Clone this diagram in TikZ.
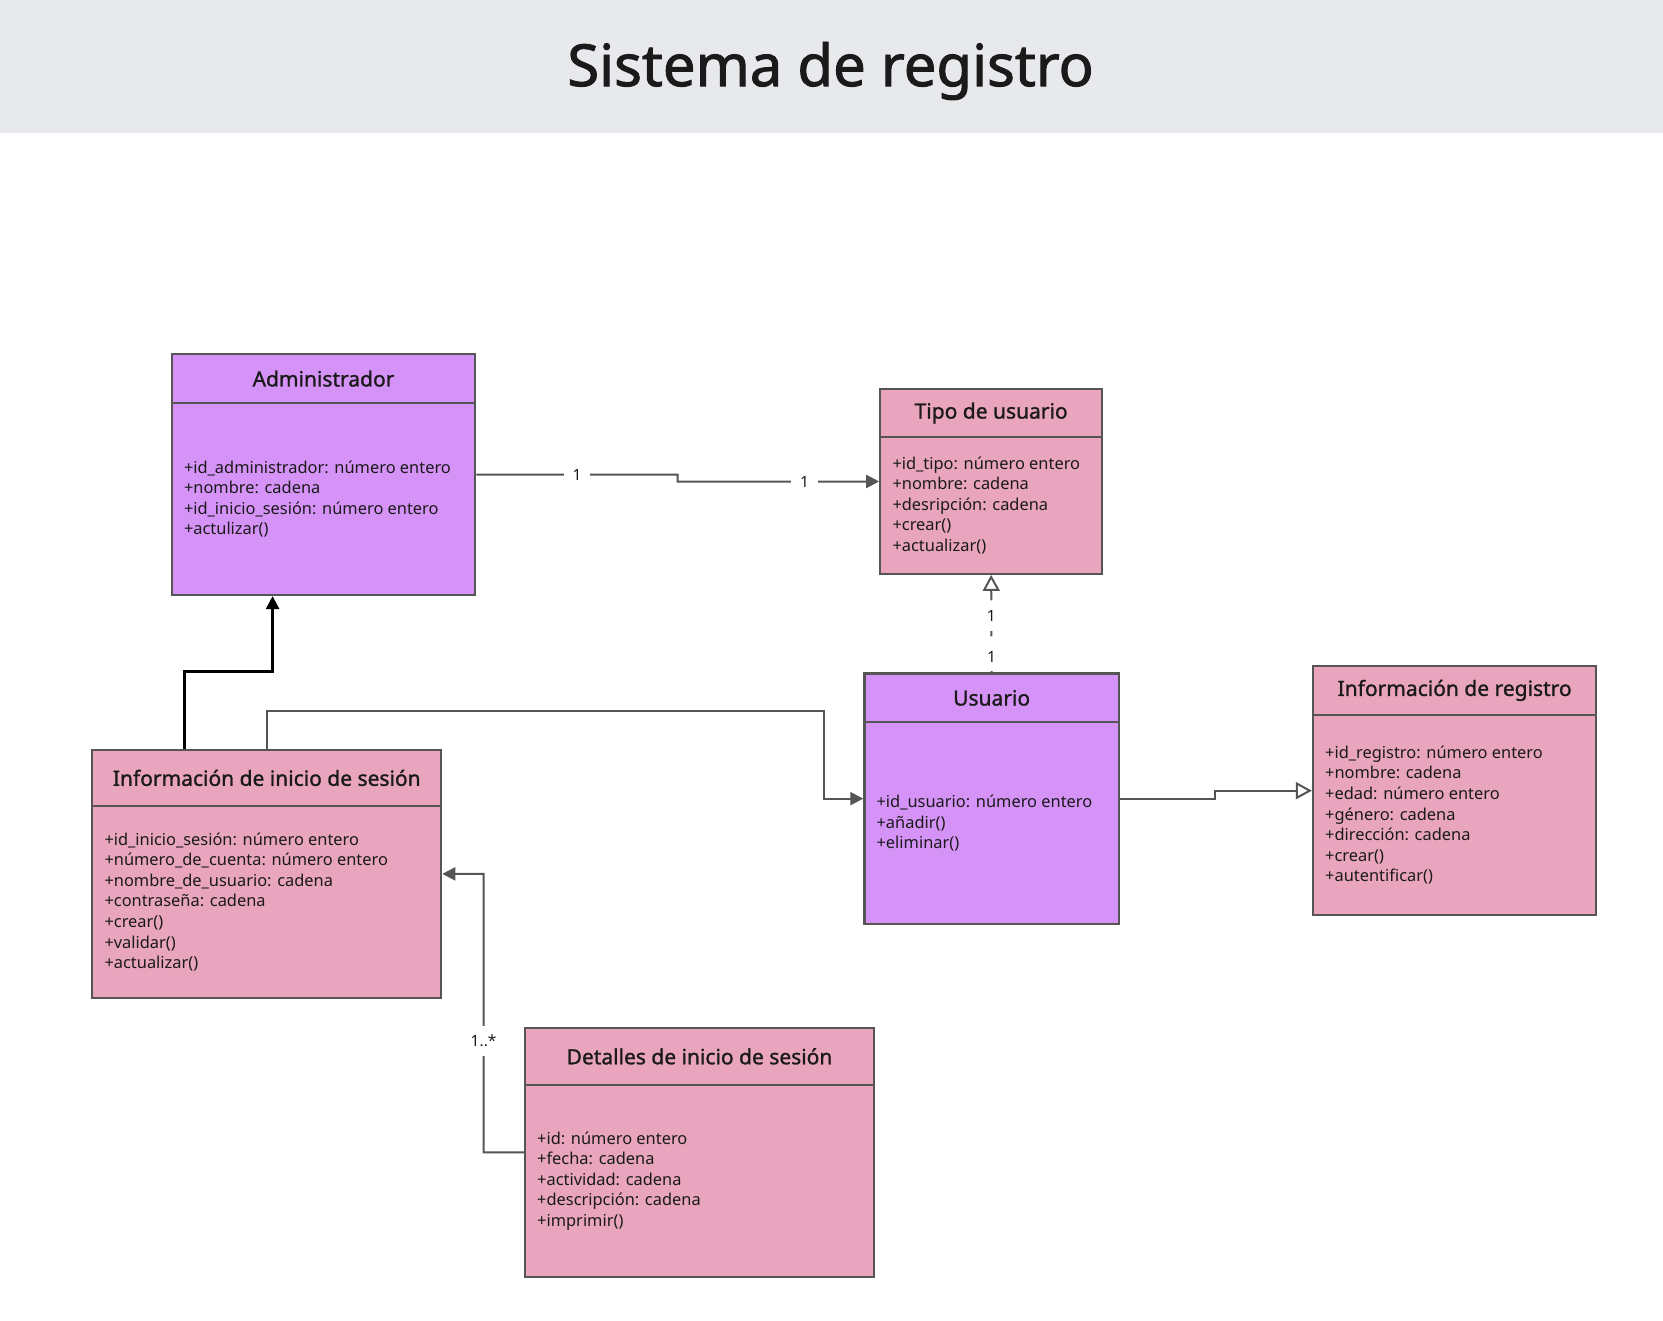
\documentclass[tikz,border=0pt]{standalone}
\usepackage{fontspec}
\setmainfont{Noto Sans}
\newfontfamily\headfont[FakeBold=1.6]{Noto Sans}
\newfontfamily\classfont[FakeBold=1.2]{Noto Sans}
\usetikzlibrary{arrows.meta}
\definecolor{purp}{RGB}{214,147,247}
\definecolor{pinkc}{RGB}{233,165,189}
\definecolor{bord}{RGB}{85,85,85}
\definecolor{band}{RGB}{232,233,237}
\definecolor{ink}{RGB}{26,26,26}
\definecolor{wire}{RGB}{85,85,85}

\tikzset{
 classframe/.style={draw=bord, line width=2.2pt, inner sep=0pt},
 classtitle/.style={font=\classfont\fontsize{21}{25}\selectfont, text=ink, inner sep=0pt},
 classbody/.style={font=\fontsize{16.4}{20.6}\selectfont, text=ink, align=left, inner sep=0pt, anchor=west},
 wireline/.style={draw=wire, line width=2pt},
 filledtip/.style={-{Triangle[length=13pt,width=13pt]}},
 opentip/.style={-{Triangle[open,length=16pt,width=17pt,fill=white]}},
 hmult/.style={fill=white, font=\fontsize{15.5}{18}\selectfont, text=ink, inner xsep=9pt, inner ysep=2pt},
 vmult/.style={fill=white, font=\fontsize{15.5}{18}\selectfont, text=ink, inner xsep=2pt, inner ysep=9pt},
}

\newcommand{\umlclass}[9]{%
 \node[classframe, fill=#7, minimum width={(#4-#2)*1pt}, minimum height={(#5-#3)*1pt}] (#1) at ({(#2+#4)/2},{(#3+#5)/2}) {};
 \draw[draw=bord, line width=2.2pt] (#2,#6) -- (#4,#6);
 \node[classtitle] (#1-title) at ({(#2+#4)/2},{(#3+#6)/2}) {#8};
 \node[classbody] (#1-body) at ({#2+12},{(#6+#5)/2}) {#9};
}

\begin{document}
\begin{tikzpicture}[x=1pt,y=-1pt]
\useasboundingbox (0,0) rectangle (1663,1321);
\fill[white] (0,0) rectangle (1663,1321);
\fill[band] (0,0) rectangle (1663,132.6);
\node[font=\headfont\fontsize{58}{62}\selectfont, text=ink] (title) at (830.5,71) {Sistema de registro};

\umlclass{adm}{171.8}{354.2}{475.2}{595}{403}{purp}{Administrador}{+id\_administrador: número entero\\+nombre: cadena\\+id\_inicio\_sesión: número entero\\+actulizar()}
\umlclass{tipo}{880.3}{389.2}{1102}{573.8}{437}{pinkc}{Tipo de usuario}{+id\_tipo: número entero\\+nombre: cadena\\+desripción: cadena\\+crear()\\+actualizar()}
\umlclass{usr}{864.4}{673.5}{1118.9}{923.8}{722.3}{purp}{Usuario}{+id\_usuario: número entero\\+añadir()\\+eliminar()}
\umlclass{reg}{1313}{666}{1596.2}{915.3}{714.8}{pinkc}{Información de registro}{+id\_registro: número entero\\+nombre: cadena\\+edad: número entero\\+género: cadena\\+dirección: cadena\\+crear()\\+autentificar()}
\umlclass{ini}{92.3}{749.8}{441.2}{998}{806}{pinkc}{Información de inicio de sesión}{+id\_inicio\_sesión: número entero\\+número\_de\_cuenta: número entero\\+nombre\_de\_usuario: cadena\\+contraseña: cadena\\+crear()\\+validar()\\+actualizar()}
\umlclass{det}{525}{1027.7}{874}{1277}{1085}{pinkc}{Detalles de inicio de sesión}{+id: número entero\\+fecha: cadena\\+actividad: cadena\\+descripción: cadena\\+imprimir()}

% Administrador -> Tipo de usuario
\draw[wireline, filledtip] (adm.east) -- node[hmult, pos=0.5]{1} (677.7,474.6) -- (677.7,481.5) -- node[hmult, pos=0.63]{1} (tipo.west);
% Usuario -> Tipo de usuario (dashed)
\draw[wireline, dash pattern=on 10pt off 8pt, opentip] (usr.north) -- node[vmult, pos=0.16]{1} node[vmult, pos=0.577]{1} (tipo.south);
% Inicio de sesion -> Administrador
\draw[line width=2.6pt, draw=black, -{Triangle[length=13pt,width=13pt]}] (184.5,0 |- ini.north) -- (184.5,671.4) -- (272.6,671.4) -- (272.6,0 |- adm.south);
% Inicio de sesion -> Usuario
\draw[wireline, filledtip] (ini.north) -- (266.75,710.6) -- (824.1,710.6) |- (usr.west);
% Usuario -> Informacion de registro
\draw[wireline, opentip] (usr.east) -- (1215.4,798.65) -- (1215.4,790.65) -- (reg.west);
% Detalles -> Inicio de sesion
\draw[wireline, filledtip] (det.west) -- (483.6,1152.35) -- node[vmult, pos=0.4]{1..*} (483.6,873.9) -- (ini.east);
\end{tikzpicture}
\end{document}
